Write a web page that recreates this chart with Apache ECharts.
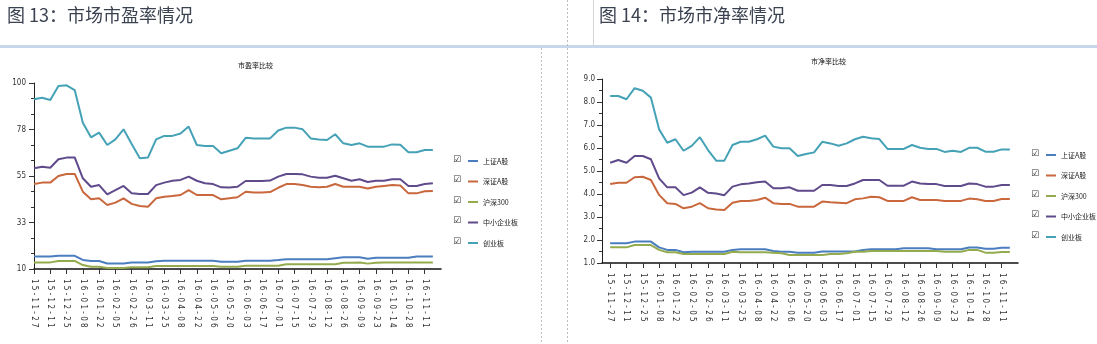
<!DOCTYPE html>
<html><head><meta charset="utf-8">
<script src="https://cdn.jsdelivr.net/npm/echarts@6/dist/echarts.min.js"></script>
<style>html,body{margin:0;padding:0;background:#fff;}#c{width:1097px;height:344px;}</style>
</head><body><div id="c"></div>
<script>
const categories = ['15-11-27','15-12-04','15-12-11','15-12-18','15-12-25','15-12-31','16-01-08','16-01-15','16-01-22','16-01-29',
  '16-02-05','16-02-19','16-02-26','16-03-04','16-03-11','16-03-18','16-03-25','16-04-01','16-04-08','16-04-15',
  '16-04-22','16-04-29','16-05-06','16-05-13','16-05-20','16-05-27','16-06-03','16-06-08','16-06-17','16-06-24',
  '16-07-01','16-07-08','16-07-15','16-07-22','16-07-29','16-08-05','16-08-12','16-08-19','16-08-26','16-09-02',
  '16-09-09','16-09-14','16-09-23','16-09-30','16-10-14','16-10-21','16-10-28','16-11-04','16-11-11','16-11-18'];

const seriesNames = ['上证A股','深证A股','沪深300','中小企业板','创业板'];

// 市盈率 (PE)
const peShA = [16,16,16,16.4,16.4,16.4,14.4,13.9,13.9,12.7,12.7,12.7,13.2,13.2,13.2,13.7,14,14,14,14,
  14,14,14,13.5,13.5,13.5,14,14,14,14,14.3,14.7,14.7,14.7,14.7,14.7,14.7,15.2,15.7,15.7,
  15.7,15,15.5,15.5,15.5,15.5,15.5,16,16,16];
const peSzA = [51.1,51.8,51.8,55,56,56,47.4,43.7,44.2,41,42.1,44.2,41.5,40.5,40.1,44.2,45,45.3,45.8,48.2,
  45.8,45.8,45.8,43.7,44.2,44.7,47.4,47,47,47.2,49.3,51.1,51.1,50.6,49.8,49.5,49.8,51.1,49.8,49.8,
  49.8,49,49.8,50.2,50.6,50.4,46.6,46.6,47.6,47.8];
const peHs300 = [13.2,13.2,13.2,13.9,13.9,13.9,11.9,11.1,11.1,10.5,10.5,10.5,10.8,10.8,10.8,11.5,11.5,11.5,11.5,11.5,
  11.5,11.5,11.5,11.1,11.1,11.1,11.6,11.6,11.6,11.6,11.6,12.3,12.3,12.3,12.3,12.3,12.3,12.3,13,13,
  13.2,12.6,13,13.1,13.1,13.1,13.1,13.1,13.1,13.1];
const peZxb = [58.7,59.5,59,63.1,63.9,64,53.9,49.8,50.6,46.1,48.2,50.2,46.6,46.3,46.3,50.6,51.8,52.7,53.1,54.7,
  52.7,51.5,51.1,49.5,49.4,49.8,52.6,52.6,52.6,52.8,54.7,56,56,55.8,54.7,54.2,54.2,55.1,53.9,52.7,
  53.4,52.1,52.7,52.7,53.4,53.4,50.2,50.2,51.1,51.5];
const peCyb = [92.1,92.9,91.8,98.5,98.9,96.6,80.8,73.7,76,70,72.7,77.6,70.5,63.6,63.9,72.7,74.4,74.4,75.6,78.9,
  70,69.5,69.5,66,67.2,68.4,73.5,73.2,73.2,73.2,77,78.4,78.4,77.6,73.2,72.7,72.4,75.2,70.8,70,
  70.8,69.2,69.2,69.2,70.3,70.1,66.5,66.5,67.6,67.6];

// 市净率 (PB)
const pbShA = [1.86,1.86,1.86,1.93,1.93,1.93,1.68,1.57,1.57,1.47,1.49,1.49,1.49,1.49,1.49,1.57,1.6,1.6,1.6,1.6,
  1.52,1.49,1.49,1.45,1.45,1.45,1.5,1.5,1.5,1.5,1.5,1.57,1.6,1.6,1.6,1.6,1.64,1.64,1.64,1.64,
  1.6,1.6,1.6,1.6,1.67,1.67,1.62,1.62,1.66,1.66];
const pbSzA = [4.43,4.49,4.49,4.73,4.75,4.61,3.96,3.6,3.57,3.38,3.45,3.6,3.38,3.33,3.3,3.62,3.7,3.7,3.74,3.84,
  3.6,3.57,3.57,3.45,3.45,3.45,3.67,3.64,3.62,3.6,3.77,3.81,3.88,3.86,3.7,3.7,3.7,3.86,3.74,3.74,
  3.74,3.7,3.7,3.7,3.8,3.77,3.7,3.7,3.78,3.78];
const pbHs300 = [1.68,1.68,1.68,1.78,1.78,1.78,1.57,1.47,1.47,1.39,1.39,1.39,1.39,1.39,1.39,1.49,1.47,1.47,1.47,1.47,
  1.45,1.42,1.35,1.35,1.35,1.35,1.35,1.39,1.39,1.42,1.49,1.49,1.52,1.52,1.52,1.52,1.52,1.52,1.52,1.52,
  1.52,1.49,1.49,1.49,1.57,1.57,1.45,1.45,1.48,1.48];
const pbZxb = [5.36,5.48,5.36,5.65,5.65,5.51,4.68,4.29,4.29,3.95,4.06,4.29,4.05,4.02,3.95,4.32,4.42,4.46,4.51,4.54,
  4.25,4.25,4.29,4.14,4.14,4.14,4.39,4.39,4.35,4.35,4.46,4.61,4.61,4.61,4.36,4.36,4.36,4.54,4.46,4.43,
  4.43,4.35,4.35,4.35,4.46,4.43,4.32,4.32,4.39,4.39];
const pbCyb = [8.26,8.26,8.12,8.6,8.49,8.19,6.81,6.23,6.38,5.88,6.09,6.47,5.91,5.45,5.45,6.13,6.27,6.27,6.38,6.54,
  6.06,5.99,5.99,5.65,5.74,5.81,6.27,6.2,6.1,6.2,6.38,6.49,6.42,6.39,5.96,5.96,5.96,6.13,6.01,5.96,
  5.96,5.83,5.88,5.83,6.01,6.01,5.84,5.84,5.94,5.93];

const peTicks = [10, 32.5, 55, 77.5, 100];
const pbTicks = [1, 2, 3, 4, 5, 6, 7, 8, 9];

const colors = ['#4a7ebf','#c9673d','#94ab4d','#5f4a8b','#45a2b6'];
const smallFont = "'Liberation Sans Narrow','DejaVu Sans Condensed','Liberation Sans',sans-serif";

const peData = [peShA, peSzA, peHs300, peZxb, peCyb];
const pbData = [pbShA, pbSzA, pbHs300, pbZxb, pbCyb];

const cat1 = categories.concat(['']);
const cat2 = [''].concat(categories, ['']);

function xAxisCfg(gridIndex, data, offset) {
  const show = (idx, val) => val !== '' && (idx - offset) % 2 === 0;
  return {
    type: 'category', gridIndex, data, boundaryGap: false,
    axisLine: { lineStyle: { color: '#111', width: 1.5 } },
    axisTick: { interval: show, length: 5, lineStyle: { color: '#333' } },
    axisLabel: { interval: show, rotate: -90, margin: 10, fontSize: 8, color: '#333', fontFamily: smallFont,
      formatter: v => v.split('').join(' ') },
    splitLine: { show: false }
  };
}
function yAxisCfg(gridIndex, ticks, minorSplit, fmt, margin) {
  return {
    type: 'value', gridIndex, min: ticks[0], max: ticks[ticks.length - 1],
    interval: ticks[1] - ticks[0],
    axisLine: { show: true, lineStyle: { color: '#222', width: 1 } },
    axisTick: { show: true, length: 5, lineStyle: { color: '#333' } },
    minorTick: { show: true, splitNumber: minorSplit, length: 3, lineStyle: { color: '#333' } },
    axisLabel: { fontSize: 8, color: '#333', margin, fontFamily: smallFont, formatter: fmt },
    splitLine: { show: false }
  };
}

const series = [];
seriesNames.forEach((name, k) => {
  series.push({ name, type: 'line', xAxisIndex: 0, yAxisIndex: 0, data: peData[k], symbol: 'none',
    lineStyle: { width: 2, color: colors[k] }, itemStyle: { color: colors[k] }, animation: false });
});
seriesNames.forEach((name, k) => {
  series.push({ name, type: 'line', xAxisIndex: 1, yAxisIndex: 1, data: [null].concat(pbData[k]), symbol: 'none',
    lineStyle: { width: 2, color: colors[k] }, itemStyle: { color: colors[k] }, animation: false });
});

function legendCfg(left, top) {
  return { data: seriesNames, orient: 'vertical', left, top, icon: 'rect', itemWidth: 10, itemHeight: 2, itemGap: 10.5,
    selectedMode: false,
    textStyle: { fontSize: 7, lineHeight: 10, color: '#222', fontFamily: "'Noto Sans CJK SC',sans-serif" } };
}
function checkboxes(left, top) {
  return seriesNames.map((n, k) => ({ type: 'text', left, top: top + k * 20.5 - 1,
    style: { text: '☑', fontSize: 9, fill: '#333', fontFamily: 'DejaVu Sans' } }));
}

const option = {
  animation: false,
  color: colors,
  grid: [
    { left: 34, top: 83, right: 656, bottom: 75 },
    { left: 602, top: 79, right: 79, bottom: 81 }
  ],
  xAxis: [ xAxisCfg(0, cat1, 0), xAxisCfg(1, cat2, 1) ],
  yAxis: [
    yAxisCfg(0, peTicks, 3, v => String(Math.round(v)), 8),
    yAxisCfg(1, pbTicks, 2, v => v.toFixed(1), 7)
  ],
  legend: [ legendCfg(463, 151), legendCfg(1041, 145) ],
  series,
  graphic: [
    { type: 'rect', shape: { x: 0, y: 45, width: 1097, height: 3 }, style: { fill: '#c8d6e9' } },
    { type: 'line', shape: { x1: 567.5, y1: 0, x2: 567.5, y2: 344 }, style: { stroke: '#bdbdbd', lineWidth: 1, lineDash: [2, 2] } },
    { type: 'line', shape: { x1: 541.5, y1: 48, x2: 541.5, y2: 344 }, style: { stroke: '#bdbdbd', lineWidth: 1, lineDash: [2, 2] } },
    { type: 'line', shape: { x1: 593.5, y1: 0, x2: 593.5, y2: 45 }, style: { stroke: '#d6d6d6', lineWidth: 1 } },
    { type: 'text', left: 7, top: 6, style: { text: '图 13：市场市盈率情况', fontSize: 18, fill: '#3a4150', fontFamily: "'Noto Sans CJK SC',sans-serif" } },
    { type: 'text', left: 599, top: 6, style: { text: '图 14：市场市净率情况', fontSize: 18, fill: '#3a4150', fontFamily: "'Noto Sans CJK SC',sans-serif" } },
    { type: 'text', left: 238, top: 62, style: { text: '市盈率比较', fontSize: 7, fill: '#111', fontFamily: "'Noto Sans CJK SC',sans-serif" } },
    { type: 'text', left: 811, top: 58, style: { text: '市净率比较', fontSize: 7, fill: '#111', fontFamily: "'Noto Sans CJK SC',sans-serif" } }
  ].concat(checkboxes(453, 156), checkboxes(1031, 150))
};

const chart = echarts.init(document.getElementById('c'), null, { renderer: 'canvas' });
chart.setOption(option);
</script>
</body></html>
